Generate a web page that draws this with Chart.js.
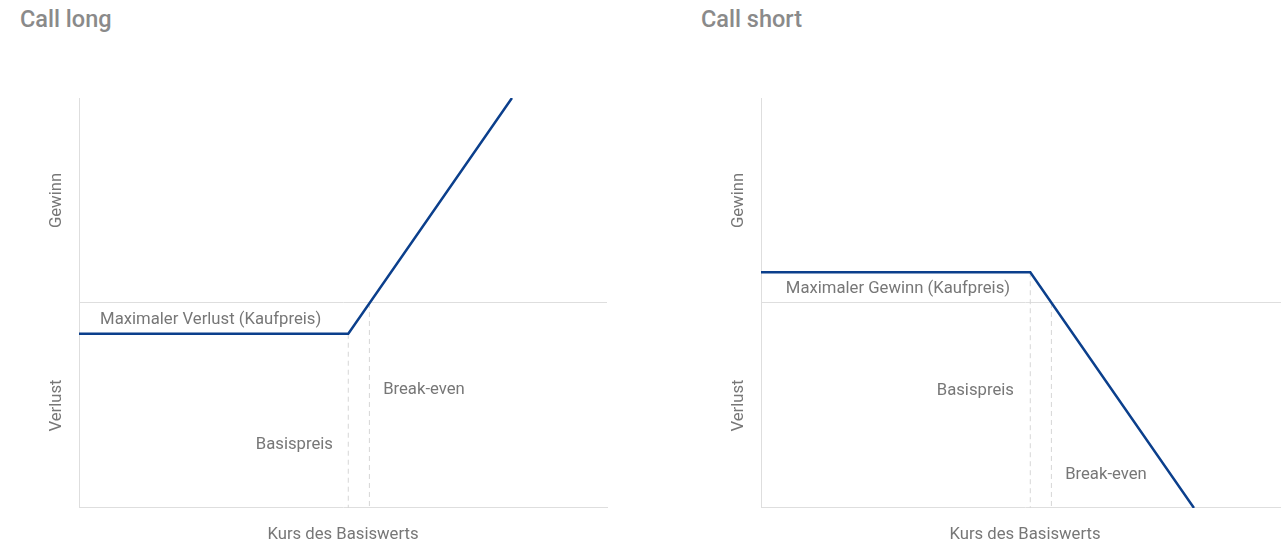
<!DOCTYPE html>
<html>
<head>
<meta charset="utf-8">
<script src="https://cdn.jsdelivr.net/npm/chart.js@4.4.0/dist/chart.umd.min.js"></script>
<style>
  html, body { margin: 0; padding: 0; background: #fff; overflow: hidden; }
  body { width: 1281px; height: 546px; position: relative; font-family: Roboto, sans-serif; }
  .title { position: absolute; top: 5px; font-size: 23.5px; line-height: 28px; font-weight: 500; color: #8a8a8a; }
  canvas { position: absolute; top: 0; }
</style>
</head>
<body>
<div class="title" style="left:20px">Call long</div>
<div class="title" style="left:701px">Call short</div>
<canvas id="longChart" width="640" height="546" style="left:0"></canvas>
<canvas id="shortChart" width="640" height="546" style="left:682px"></canvas>
<script>
// Kurs des Basiswerts (0..100) and payoff values
const priceX = [0, 51, 82];
const longPayoff = [-15, -15, 100];
const shortPayoff = [15, 15, -100];
const strike = 51;
const breakEven = 55;

// y axis ticks: labels for the profit / loss half
const yTickValues = [-50, 0, 50];
const yTickLabels = ['Verlust', '', 'Gewinn'];
const xAxisTitle = 'Kurs des Basiswerts';

const longNotes = [
  { text: 'Maximaler Verlust (Kaufpreis)', x: 4, y: -8, align: 'left' },
  { text: 'Basispreis', x: 48.1, y: -69, align: 'right' },
  { text: 'Break-even', x: 57.6, y: -42.4, align: 'left' }
];
const shortNotes = [
  { text: 'Maximaler Gewinn (Kaufpreis)', x: 4.7, y: 6.8, align: 'left' },
  { text: 'Basispreis', x: 47.9, y: -43, align: 'right' },
  { text: 'Break-even', x: 57.6, y: -84, align: 'left' }
];

const lineBlue = '#0b3f8c';
const axisGrey = '#dedede';
const textGrey = '#777777';
const fontSize = 16.7;

// draws the text notes at data positions
const notesPlugin = {
  id: 'notes',
  afterDatasetsDraw(chart, args, opts) {
    const ctx = chart.ctx;
    const { x, y } = chart.scales;
    ctx.save();
    ctx.font = fontSize + 'px Roboto, sans-serif';
    ctx.fillStyle = textGrey;
    ctx.textBaseline = 'middle';
    opts.items.forEach(n => {
      ctx.textAlign = n.align;
      ctx.fillText(n.text, x.getPixelForValue(n.x), y.getPixelForValue(n.y));
    });
    ctx.restore();
  }
};

function makeChart(id, payoff, notes) {
  const kinkY = payoff[1];
  return new Chart(document.getElementById(id), {
    type: 'line',
    data: {
      datasets: [
        {
          data: priceX.map((v, i) => ({ x: v, y: payoff[i] })),
          borderColor: lineBlue,
          borderWidth: 2.5,
          pointRadius: 0,
          tension: 0
        },
        {
          data: [{ x: strike, y: kinkY }, { x: strike, y: -100 }],
          borderColor: '#d6d6d6',
          borderWidth: 1,
          borderDash: [5, 4],
          pointRadius: 0
        },
        {
          data: [{ x: breakEven, y: 0 }, { x: breakEven, y: -100 }],
          borderColor: '#d6d6d6',
          borderWidth: 1,
          borderDash: [5, 4],
          pointRadius: 0
        }
      ]
    },
    options: {
      responsive: false,
      animation: false,
      layout: { padding: { top: 98, right: 33, bottom: 0, left: 0 } },
      plugins: {
        legend: { display: false },
        tooltip: { enabled: false },
        notes: { items: notes }
      },
      scales: {
        x: {
          type: 'linear',
          min: 0,
          max: 100,
          grid: { color: 'rgba(0,0,0,0)', drawTicks: false },
          border: { color: axisGrey, width: 1 },
          ticks: { display: false },
          title: {
            display: true,
            text: xAxisTitle,
            color: textGrey,
            font: { family: 'Roboto', size: fontSize },
            padding: { top: 17, bottom: 1 }
          }
        },
        y: {
          type: 'linear',
          min: -100,
          max: 100,
          afterBuildTicks: scale => { scale.ticks = yTickValues.map(v => ({ value: v })); },
          afterFit: scale => { scale.width = 79; },
          grid: {
            drawTicks: false,
            color: c => (c.tick && c.tick.value === 0 ? axisGrey : 'rgba(0,0,0,0)')
          },
          border: { color: axisGrey, width: 1 },
          ticks: {
            autoSkip: false,
            minRotation: 90,
            maxRotation: 90,
            crossAlign: 'center',
            padding: -5,
            color: textGrey,
            font: { family: 'Roboto', size: fontSize },
            callback: v => yTickLabels[yTickValues.indexOf(v)]
          }
        }
      }
    },
    plugins: [notesPlugin]
  });
}

makeChart('longChart', longPayoff, longNotes);
makeChart('shortChart', shortPayoff, shortNotes);
</script>
</body>
</html>
